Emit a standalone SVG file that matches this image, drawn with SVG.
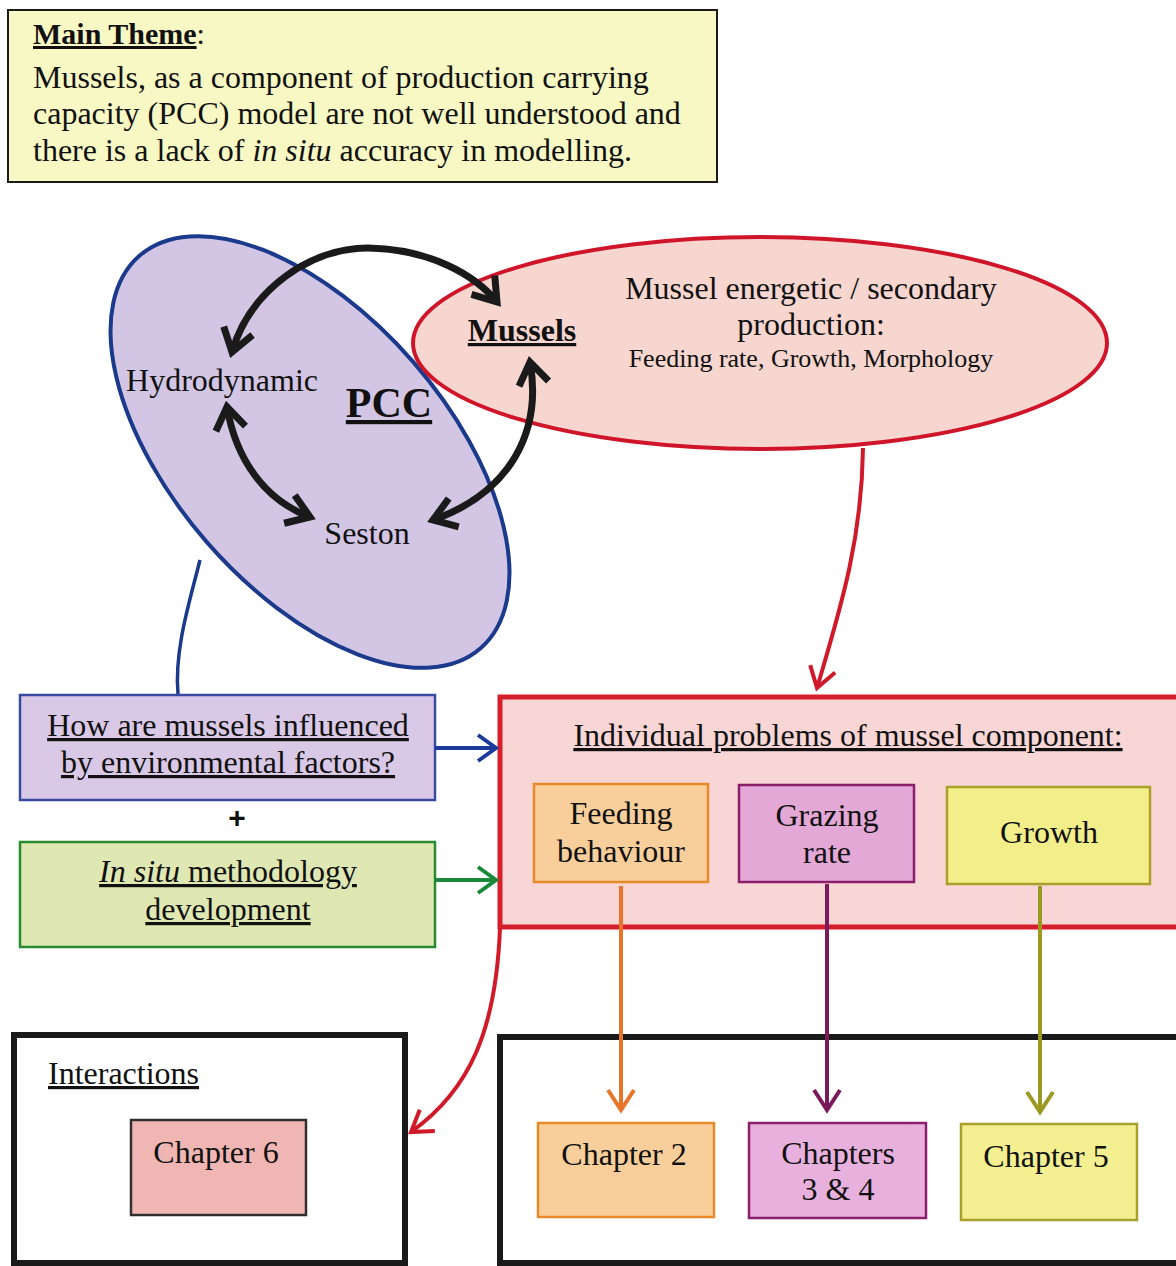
<svg xmlns="http://www.w3.org/2000/svg" width="1176" height="1266" viewBox="0 0 1176 1266">
<style>
text{font-family:"Liberation Serif","DejaVu Serif",serif;fill:#111;}
.t32{font-size:32px;}
.mid{text-anchor:middle;}
.u{text-decoration:underline;}
.b{font-weight:bold;}
.blk{stroke:#1a1a1a;stroke-width:7;fill:none;}
</style>
<defs>
<marker id="hb" markerUnits="userSpaceOnUse" markerWidth="40" markerHeight="40" viewBox="-30 -20 40 40" refX="0" refY="0" orient="auto-start-reverse" overflow="visible">
<path d="M-22,-15 L0,0 L-22,15" fill="none" stroke="#1a1a1a" stroke-width="7" stroke-linejoin="miter"/>
</marker>
<marker id="hr" markerUnits="userSpaceOnUse" markerWidth="40" markerHeight="40" viewBox="-30 -20 40 40" orient="auto" overflow="visible">
<path d="M-20,-13 L0,0 L-20,13" fill="none" stroke="#d01a2a" stroke-width="4"/>
</marker>
<marker id="hblue" markerUnits="userSpaceOnUse" markerWidth="40" markerHeight="40" viewBox="-30 -20 40 40" orient="auto" overflow="visible">
<path d="M-18,-13 L0,0 L-18,13" fill="none" stroke="#1c3a9a" stroke-width="4"/>
</marker>
<marker id="hg" markerUnits="userSpaceOnUse" markerWidth="40" markerHeight="40" viewBox="-30 -20 40 40" orient="auto" overflow="visible">
<path d="M-18,-13 L0,0 L-18,13" fill="none" stroke="#1a8a3a" stroke-width="4"/>
</marker>
<marker id="ho" markerUnits="userSpaceOnUse" markerWidth="40" markerHeight="40" viewBox="-30 -20 40 40" orient="auto" overflow="visible">
<path d="M-20,-13 L0,0 L-20,13" fill="none" stroke="#e8742a" stroke-width="4"/>
</marker>
<marker id="hp" markerUnits="userSpaceOnUse" markerWidth="40" markerHeight="40" viewBox="-30 -20 40 40" orient="auto" overflow="visible">
<path d="M-20,-13 L0,0 L-20,13" fill="none" stroke="#7a1a5a" stroke-width="4"/>
</marker>
<marker id="hy" markerUnits="userSpaceOnUse" markerWidth="40" markerHeight="40" viewBox="-30 -20 40 40" orient="auto" overflow="visible">
<path d="M-20,-13 L0,0 L-20,13" fill="none" stroke="#9a9a20" stroke-width="4"/>
</marker>
</defs>
<rect width="1176" height="1266" fill="#ffffff"/>

<g id="main-theme">
<rect x="8" y="10" width="709" height="172" fill="#f8f8c4" stroke="#1a1a1a" stroke-width="2"/>
<text x="33" y="44" style="font-size:30px"><tspan class="b u">Main Theme</tspan>:</text>
<text x="33" y="88" class="t32">Mussels, as a component of production carrying</text>
<text x="33" y="124" class="t32">capacity (PCC) model are not well understood and</text>
<text x="33" y="161" class="t32">there is a lack of <tspan font-style="italic">in situ</tspan> accuracy in modelling.</text>
</g>

<g id="pcc-ellipse">
<ellipse cx="310" cy="452" rx="260" ry="137" transform="rotate(49 310 452)" fill="#d2c6e4" stroke="#1c3a8c" stroke-width="4"/>
</g>

<g id="mussel-ellipse">
<ellipse cx="760" cy="343" rx="347" ry="106" fill="#f6d3cc" fill-opacity="0.93" stroke="#d0152a" stroke-width="4"/>
<text x="811" y="299" class="mid t32">Mussel energetic / secondary</text>
<text x="811" y="335" class="mid t32">production:</text>
<text x="811" y="367" class="mid" style="font-size:26px">Feeding rate, Growth, Morphology</text>
</g>

<g id="pcc-labels">
<text x="222" y="391" class="mid t32">Hydrodynamic</text>
<text x="389" y="417" class="mid b u" style="font-size:42px">PCC</text>
<text x="367" y="544" class="mid t32">Seston</text>
<text x="522" y="341" class="mid b u" style="font-size:32px">Mussels</text>
</g>

<g id="q-box">
<rect x="20" y="695" width="415" height="105" fill="#d9c9e7" stroke="#3a4aa0" stroke-width="2.5"/>
<text x="228" y="736" class="mid t32 u">How are mussels influenced</text>
<text x="228" y="773" class="mid t32 u">by environmental factors?</text>
</g>
<g id="plus">
<text x="237" y="828" class="mid" style="font-family:'Liberation Sans',Arial,sans-serif;font-size:30px;font-weight:bold">+</text>
</g>
<g id="insitu-box">
<rect x="20" y="842" width="415" height="105" fill="#dfe8b2" stroke="#2a8a30" stroke-width="2.5"/>
<text x="228" y="882" class="mid t32 u"><tspan font-style="italic">In situ</tspan> methodology</text>
<text x="228" y="920" class="mid t32 u">development</text>
</g>

<g id="problems-box">
<rect x="500" y="697" width="690" height="230" fill="#f9d6d6" stroke="#d71f2b" stroke-width="5"/>
<text x="848" y="746" class="mid t32 u">Individual problems of mussel component:</text>
</g>
<g id="feeding">
<rect x="534" y="784" width="174" height="98" fill="#f8cf9a" stroke="#e88a2a" stroke-width="2.5"/>
<text x="621" y="824" class="mid t32">Feeding</text>
<text x="621" y="862" class="mid t32">behaviour</text>
</g>
<g id="grazing">
<rect x="739" y="785" width="175" height="97" fill="#e3a8d6" stroke="#8b1f6b" stroke-width="2.5"/>
<text x="827" y="826" class="mid t32">Grazing</text>
<text x="827" y="863" class="mid t32">rate</text>
</g>
<g id="growth">
<rect x="947" y="787" width="203" height="97" fill="#f2ef8a" stroke="#a8a028" stroke-width="2.5"/>
<text x="1049" y="843" class="mid t32">Growth</text>
</g>

<g id="interactions-box">
<rect x="14" y="1035" width="391" height="228" fill="#ffffff" stroke="#1a1a1a" stroke-width="6"/>
<text x="48" y="1084" class="t32 u">Interactions</text>
</g>
<g id="chapter6">
<rect x="131" y="1120" width="175" height="95" fill="#f0b6b4" stroke="#303030" stroke-width="2.5"/>
<text x="216" y="1163" class="mid t32">Chapter 6</text>
</g>
<g id="chapters-box">
<rect x="500" y="1037" width="690" height="226" fill="#ffffff" stroke="#1a1a1a" stroke-width="6"/>
</g>
<g id="chapter2">
<rect x="538" y="1123" width="176" height="94" fill="#f8cf9a" stroke="#e88a2a" stroke-width="2.5"/>
<text x="624" y="1165" class="mid t32">Chapter 2</text>
</g>
<g id="chapter34">
<rect x="749" y="1123" width="177" height="95" fill="#e8b0dc" stroke="#8b1f6b" stroke-width="2.5"/>
<text x="838" y="1164" class="mid t32">Chapters</text>
<text x="838" y="1200" class="mid t32">3 &amp; 4</text>
</g>
<g id="chapter5">
<rect x="961" y="1124" width="176" height="96" fill="#f4f092" stroke="#a8a028" stroke-width="2.5"/>
<text x="1046" y="1167" class="mid t32">Chapter 5</text>
</g>

<g id="connectors">
<path class="blk" d="M232,352 C250,290 310,248 368,248 C430,249 475,275 497,302" marker-start="url(#hb)" marker-end="url(#hb)"/>
<path class="blk" d="M227,407 C236,460 265,500 310,517" marker-start="url(#hb)" marker-end="url(#hb)"/>
<path class="blk" d="M530,362 C542,430 512,492 433,520" marker-start="url(#hb)" marker-end="url(#hb)"/>
<path d="M200,560 C190,600 174,650 178,694" fill="none" stroke="#1c3a8c" stroke-width="3.5"/>
<path d="M863,448 C862,540 840,610 817,688" fill="none" stroke="#d01a2a" stroke-width="4" marker-end="url(#hr)"/>
<path d="M500,928 C496,1030 470,1090 411,1132" fill="none" stroke="#d01a2a" stroke-width="4" marker-end="url(#hr)"/>
<path d="M435,748 L496,748" fill="none" stroke="#1c3a9a" stroke-width="4" marker-end="url(#hblue)"/>
<path d="M435,880 L496,880" fill="none" stroke="#1a8a3a" stroke-width="4" marker-end="url(#hg)"/>
<path d="M621,886 L621,1110" fill="none" stroke="#e8742a" stroke-width="4" marker-end="url(#ho)"/>
<path d="M827,884 L827,1110" fill="none" stroke="#7a1a5a" stroke-width="4" marker-end="url(#hp)"/>
<path d="M1040,886 L1040,1112" fill="none" stroke="#9a9a20" stroke-width="4" marker-end="url(#hy)"/>
</g>
</svg>
